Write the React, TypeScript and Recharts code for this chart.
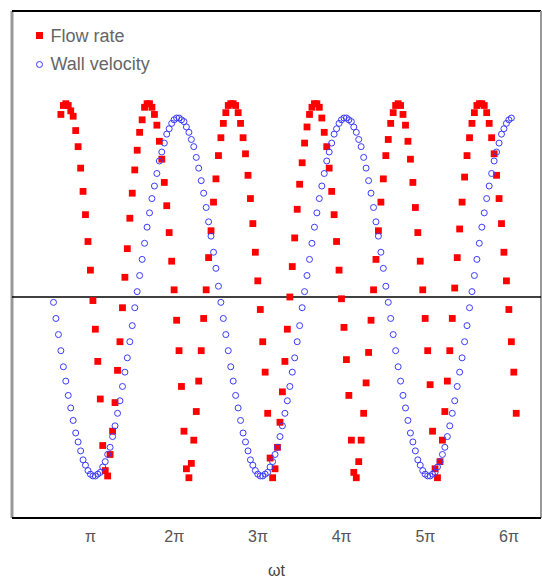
import React from 'react';
import { ScatterChart, Scatter, XAxis, YAxis, ReferenceLine, Legend } from 'recharts';

// ωt / π for each sample
const WT: number[] = [
  0.509, 0.538, 0.568, 0.597, 0.627, 0.656, 0.685, 0.715, 0.744, 0.774, 0.803, 0.833, 0.862, 0.891, 0.921, 0.950, 0.980,
  1.009, 1.038, 1.068, 1.097, 1.127, 1.156, 1.185, 1.215, 1.244, 1.274, 1.303, 1.333, 1.362, 1.391, 1.421, 1.450, 1.480,
  1.509, 1.538, 1.568, 1.597, 1.627, 1.656, 1.685, 1.715, 1.744, 1.774, 1.803, 1.833, 1.862, 1.891, 1.921, 1.950, 1.980,
  2.009, 2.038, 2.068, 2.097, 2.127, 2.156, 2.185, 2.215, 2.244, 2.274, 2.303, 2.333, 2.362, 2.391, 2.421, 2.450, 2.480,
  2.509, 2.538, 2.568, 2.597, 2.627, 2.656, 2.685, 2.715, 2.744, 2.774, 2.803, 2.833, 2.862, 2.891, 2.921, 2.950, 2.980,
  3.009, 3.038, 3.068, 3.097, 3.127, 3.156, 3.185, 3.215, 3.244, 3.274, 3.303, 3.333, 3.362, 3.391, 3.421, 3.450, 3.480,
  3.509, 3.538, 3.568, 3.597, 3.627, 3.656, 3.685, 3.715, 3.744, 3.774, 3.803, 3.833, 3.862, 3.891, 3.921, 3.950, 3.980,
  4.009, 4.038, 4.068, 4.097, 4.127, 4.156, 4.185, 4.215, 4.244, 4.274, 4.303, 4.333, 4.362, 4.391, 4.421, 4.450, 4.480,
  4.509, 4.538, 4.568, 4.597, 4.627, 4.656, 4.685, 4.715, 4.744, 4.774, 4.803, 4.833, 4.862, 4.891, 4.921, 4.950, 4.980,
  5.009, 5.038, 5.068, 5.097, 5.127, 5.156, 5.185, 5.215, 5.244, 5.274, 5.303, 5.333, 5.362, 5.391, 5.421, 5.450, 5.480,
  5.509, 5.538, 5.568, 5.597, 5.627, 5.656, 5.685, 5.715, 5.744, 5.774, 5.803, 5.833, 5.862, 5.891, 5.921, 5.950, 5.980,
  6.009, 6.038,
];

// Flow rate (normalised)
const FLOW: (number | null)[] = [
  null, null, null, 1.02, 1.07, 1.08, 1.07, 1.04, 1.01, 0.93,
  0.84, 0.72, 0.59, 0.46, 0.31, 0.15, -0.02, -0.18, -0.36, -0.57,
  -0.83, -0.97, -1.0, -0.88, -0.75, -0.59, -0.41, -0.25, -0.06, 0.11,
  0.27, 0.44, 0.58, 0.71, 0.82, 0.92, 0.99, 1.06, 1.08, 1.08,
  1.06, 1.02, 0.96, 0.87, 0.77, 0.64, 0.51, 0.36, 0.2, 0.04,
  -0.13, -0.3, -0.5, -0.75, -0.96, -1.01, -0.93, -0.8, -0.64, -0.47,
  -0.3, -0.12, 0.04, 0.22, 0.37, 0.53, 0.66, 0.79, 0.89, 0.97,
  1.03, 1.07, 1.08, 1.08, 1.07, 1.03, 0.97, 0.89, 0.8, 0.68,
  0.55, 0.41, 0.25, 0.09, -0.07, -0.25, -0.42, -0.65, -0.9, -1.01,
  -0.96, -0.84, -0.7, -0.53, -0.36, -0.18, 0.0, 0.17, 0.33, 0.49,
  0.63, 0.75, 0.86, 0.95, 1.02, 1.06, 1.08, 1.08, 1.06, 1.0,
  0.92, 0.84, 0.72, 0.59, 0.46, 0.31, 0.15, -0.01, -0.17, -0.35,
  -0.55, -0.8, -0.98, -1.01, -0.92, -0.8, -0.65, -0.48, -0.31, -0.13,
  0.04, 0.21, 0.37, 0.53, 0.66, 0.79, 0.88, 0.97, 1.03, 1.07,
  1.08, 1.07, 1.02, 0.96, 0.87, 0.77, 0.64, 0.5, 0.36, 0.2,
  0.04, -0.12, -0.3, -0.49, -0.75, -0.96, -1.01, -0.92, -0.8, -0.64,
  -0.47, -0.3, -0.12, 0.05, 0.22, 0.38, 0.53, 0.67, 0.79, 0.89,
  0.97, 1.03, 1.07, 1.08, 1.08, 1.07, 1.03, 0.97, 0.89, 0.8,
  0.68, 0.55, 0.41, 0.25, 0.09, -0.07, -0.25, -0.42, -0.65,
];

// Wall velocity (normalised)
const WALL: (number | null)[] = [
  -0.03, -0.12, -0.21, -0.3, -0.39, -0.47, -0.55, -0.62, -0.69, -0.76, -0.81, -0.86, -0.91, -0.94, -0.97, -0.99, -1.0,
  -1.0, -0.99, -0.98, -0.95, -0.92, -0.88, -0.84, -0.78, -0.72, -0.65, -0.58, -0.5, -0.42, -0.34, -0.25, -0.16, -0.06,
  0.03, 0.12, 0.21, 0.3, 0.39, 0.47, 0.55, 0.62, 0.69, 0.76, 0.81, 0.86, 0.91, 0.94, 0.97, 0.99, 1.0,
  1.0, 0.99, 0.98, 0.95, 0.92, 0.88, 0.84, 0.78, 0.72, 0.65, 0.58, 0.5, 0.42, 0.34, 0.25, 0.16, 0.06,
  -0.03, -0.12, -0.21, -0.3, -0.39, -0.47, -0.55, -0.62, -0.69, -0.76, -0.81, -0.86, -0.91, -0.94, -0.97, -0.99, -1.0,
  -1.0, -0.99, -0.98, -0.95, -0.92, -0.88, -0.84, -0.78, -0.72, -0.65, -0.58, -0.5, -0.42, -0.34, -0.25, -0.16, -0.06,
  0.03, 0.12, 0.21, 0.3, 0.39, 0.47, 0.55, 0.62, 0.69, 0.76, 0.81, 0.86, 0.91, 0.94, 0.97, 0.99, 1.0,
  1.0, 0.99, 0.98, 0.95, 0.92, 0.88, 0.84, 0.78, 0.72, 0.65, 0.58, 0.5, 0.42, 0.34, 0.25, 0.16, 0.06,
  -0.03, -0.12, -0.21, -0.3, -0.39, -0.47, -0.55, -0.62, -0.69, -0.76, -0.81, -0.86, -0.91, -0.94, -0.97, -0.99, -1.0,
  -1.0, -0.99, -0.98, -0.95, -0.92, -0.88, -0.84, -0.78, -0.72, -0.65, -0.58, -0.5, -0.42, -0.34, -0.25, -0.16, -0.06,
  0.03, 0.12, 0.21, 0.3, 0.39, 0.47, 0.55, 0.62, 0.69, 0.76, 0.81, 0.86, 0.91, 0.94, 0.97, 0.99, 1.0,
  null, null,
];

const X_TICKS = [1, 2, 3, 4, 5, 6];
const X_DOMAIN: [number, number] = [0.013, 6.334];
const Y_DOMAIN: [number, number] = [-1.235, 1.598];
const SERIES_NAMES = ['Flow rate', 'Wall velocity'];

const FONT = '"Liberation Sans", Arial, sans-serif';

const flowData = WT.map((x, i) => ({ x, y: FLOW[i] })).filter((d) => d.y !== null && d.y !== undefined);
const wallData = WT.map((x, i) => ({ x, y: WALL[i] })).filter((d) => d.y !== null && d.y !== undefined);

const RedSquare = (props: any) => {
  const { cx, cy } = props;
  if (cx == null || cy == null) return null;
  return <rect x={cx - 3.4} y={cy - 3.4} width={6.8} height={6.8} fill="#ff0000" />;
};

const BlueRing = (props: any) => {
  const { cx, cy } = props;
  if (cx == null || cy == null) return null;
  return <circle cx={cx} cy={cy} r={3} fill="none" stroke="#3a3aff" strokeWidth={1} />;
};

const tickFormatter = (v: number) => (v === 1 ? 'π' : `${v}π`);

const LegendContent = () => (
  <div style={{ fontFamily: FONT, fontSize: 18, color: '#666', whiteSpace: 'nowrap' }}>
    <div style={{ display: 'flex', alignItems: 'center', height: 28.5 }}>
      <svg width={9} height={9} style={{ display: 'block' }}>
        <rect x={1} y={1} width={7} height={7} fill="#ff0000" />
      </svg>
      <span style={{ marginLeft: 6.5, lineHeight: '28.5px' }}>{SERIES_NAMES[0]}</span>
    </div>
    <div style={{ display: 'flex', alignItems: 'center', height: 28.5 }}>
      <svg width={9} height={9} style={{ display: 'block' }}>
        <circle cx={4.5} cy={4.5} r={3} fill="none" stroke="#3a3aff" strokeWidth={1} />
      </svg>
      <span style={{ marginLeft: 6.5, lineHeight: '28.5px' }}>{SERIES_NAMES[1]}</span>
    </div>
  </div>
);

export default function App() {
  return (
    <div style={{ position: 'absolute', left: 0, top: 0, width: 542, height: 579, background: '#fff' }}>
      <ScatterChart width={542} height={579} margin={{ top: 11, right: 1, bottom: 0, left: 12 }}>
        <XAxis
          dataKey="x"
          type="number"
          domain={X_DOMAIN}
          ticks={X_TICKS}
          allowDataOverflow
          tickFormatter={tickFormatter}
          height={61}
          tickLine={false}
          tickSize={0}
          tickMargin={13}
          axisLine={{ stroke: '#000', strokeWidth: 2 }}
          tick={{ fill: '#555', fontSize: 16, fontFamily: FONT, dx: -4 }}
          label={{ value: 'ωt', position: 'insideBottom', offset: 3, fill: '#444', fontSize: 16, fontFamily: FONT }}
        />
        <YAxis
          dataKey="y"
          type="number"
          domain={Y_DOMAIN}
          allowDataOverflow
          width={0}
          tick={false}
          tickLine={false}
          axisLine={false}
        />
        <ReferenceLine x={X_DOMAIN[0]} stroke="#999" strokeWidth={3} ifOverflow="visible" />
        <ReferenceLine y={Y_DOMAIN[1]} stroke="#000" strokeWidth={2} ifOverflow="visible" />
        <ReferenceLine x={X_DOMAIN[1]} stroke="#999" strokeWidth={2} ifOverflow="visible" />
        <ReferenceLine y={0} stroke="#000" strokeWidth={1.3} ifOverflow="visible" />
        <Legend
          layout="vertical"
          align="center"
          verticalAlign="middle"
          content={LegendContent}
          wrapperStyle={{ top: 21.5, left: 35, width: 200 }}
        />
        <Scatter name={SERIES_NAMES[0]} data={flowData} shape={RedSquare} isAnimationActive={false} />
        <Scatter name={SERIES_NAMES[1]} data={wallData} shape={BlueRing} isAnimationActive={false} />
      </ScatterChart>
    </div>
  );
}
